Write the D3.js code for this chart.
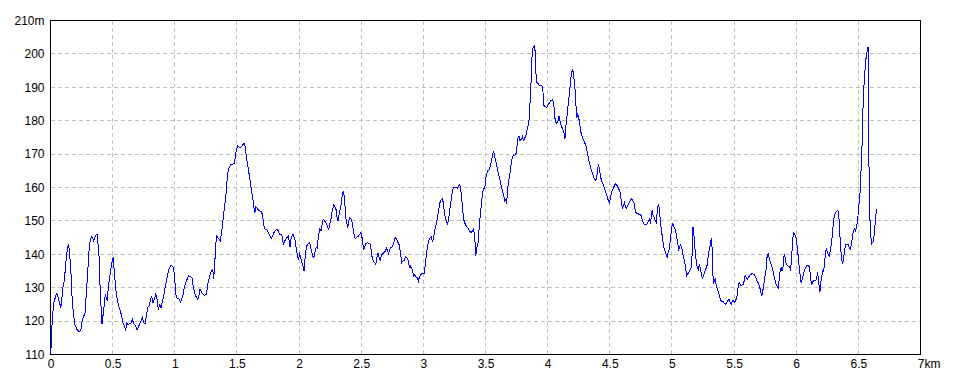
<!DOCTYPE html>
<html><head><meta charset="utf-8">
<script src="https://cdn.jsdelivr.net/npm/d3@7"></script>
<style>
body{margin:0;background:#fff}
svg{display:block}
text{font-family:"Liberation Sans",Arial,sans-serif;font-size:12px;fill:#000}
</style>
</head><body>
<svg id="chart" width="960" height="384"></svg>
<script>
// distance in metres, elevation in metres
const profile0to1_26 = [[0,110.5],[8,113.5],[11,118],[19,122.5],[27,125.5],[38,127],[48,128.2],[59,127.5],[73,125.5],[83,124],[91,126.5],[99,130],[110,132],[118,135],[126,138.5],[137,142],[145,143.2],[153,140.5],[164,135],[175,126],[185,122],[196,119],[212,117.5],[234,116.8],[245,117.5],[255,120],[266,121.5],[277,122],[288,128],[298,134],[309,140.5],[320,144.5],[333,145.3],[347,144],[360,145.5],[374,146],[379,144.5],[390,140],[395,133],[403,128],[409,122],[414,119],[422,121.5],[433,125],[441,128],[449,127],[457,126],[465,130],[476,133],[487,136],[497,138.2],[505,139.2],[513,135],[524,130],[535,127],[548,124.5],[562,123],[573,121.5],[583,119.5],[594,118.5],[605,117.2],[613,119.5],[624,119],[637,119.2],[648,119.5],[659,120.5],[669,119.2],[683,118.8],[696,117.5],[707,118.2],[718,119.2],[728,120],[739,121],[750,119.5],[761,119.2],[771,121.5],[782,124.2],[793,124.5],[804,126.2],[814,127.5],[825,125.5],[836,126.5],[847,128],[857,126.5],[868,123.5],[879,124.8],[890,124],[900,126],[911,127.5],[922,130],[933,132],[943,134],[954,135.8],[970,136.8],[986,136.2],[997,134],[1008,128],[1019,126.8],[1030,126.8],[1046,125.8],[1056,126.5],[1067,128],[1078,130.5],[1089,131.5],[1099,132.5],[1110,133.5],[1126,133.3],[1140,132.8],[1150,130],[1159,128.5],[1169,127.5],[1185,126.5],[1196,128],[1202,129.5],[1212,129],[1223,128.2],[1239,127.7],[1255,128]];

const profile1_26to2_82 = [[1263,130.5],[1274,132.5],[1285,134],[1296,135.2],[1306,135.5],[1312,132.5],[1320,136],[1328,142],[1336,145.5],[1347,145],[1358,144.5],[1366,144],[1374,146],[1383,148.5],[1390,151],[1398,153.5],[1406,156],[1414,158.5],[1419,161.5],[1427,164.5],[1438,166],[1452,167],[1468,167],[1481,167.2],[1489,170],[1495,171.2],[1505,172.5],[1522,172],[1538,172.2],[1548,172.8],[1559,173.2],[1565,172.5],[1573,170],[1583,167.5],[1594,165],[1602,163],[1610,161],[1618,159],[1626,157],[1634,155],[1640,153],[1645,152.5],[1653,154.2],[1661,154],[1672,153.2],[1683,153],[1696,152.8],[1704,152],[1712,150],[1720,147.8],[1731,147.5],[1742,147.2],[1753,146.5],[1763,145.8],[1777,144.8],[1788,145.5],[1798,146.5],[1812,147.2],[1823,147.5],[1833,147],[1844,146],[1855,146],[1866,145.2],[1874,142.8],[1882,143.8],[1892,144.5],[1903,145],[1914,145.5],[1922,143.5],[1927,142.2],[1933,144.5],[1944,145.5],[1952,146],[1962,145],[1970,143.8],[1978,141.5],[1987,139.5],[1995,138.2],[2003,140.2],[2011,139.5],[2019,138],[2027,136.8],[2035,136.2],[2040,135],[2046,138],[2054,141],[2062,142.5],[2073,143.2],[2086,143.5],[2094,142],[2102,140.8],[2110,139.5],[2119,139],[2127,140.5],[2137,142],[2145,141.8],[2156,145.5],[2167,147.5],[2177,147],[2185,149],[2194,150.5],[2204,150],[2215,149.5],[2223,149],[2231,148],[2239,147.5],[2247,149],[2255,150.2],[2263,152],[2269,153.5],[2280,154.8],[2290,154.2],[2301,153],[2306,151],[2314,150],[2323,152],[2331,153.5],[2339,155],[2347,157.5],[2355,159],[2363,157.5],[2371,153.8],[2376,151],[2384,149.5],[2390,147.8],[2398,149.5],[2406,151],[2414,150.8],[2425,150],[2433,148.2],[2441,146.5],[2446,145],[2457,144.8],[2468,145.2],[2478,145.5],[2489,146],[2497,146.5],[2505,145.5],[2513,143],[2521,141.5],[2530,142.5],[2538,143.2],[2548,143.5],[2562,143.2],[2575,143],[2583,140],[2589,139],[2597,138],[2608,137.5],[2618,137],[2626,139],[2634,140.5],[2645,139],[2653,138],[2661,139.5],[2672,140.2],[2683,140.5],[2694,141],[2704,141.8],[2712,141],[2720,140.2],[2728,141.5],[2739,142],[2750,142.2],[2763,143.5],[2774,145],[2785,144.5],[2796,143.5],[2806,142.8],[2814,141]];

const profile2_82to3_85 = [[2826,137.5],[2834,138],[2845,138.2],[2856,139.2],[2866,139],[2877,138.2],[2888,136],[2893,136.8],[2901,136],[2912,135.5],[2920,133.5],[2930,133.8],[2941,133.2],[2952,133],[2960,132],[2968,133.2],[2979,134],[2992,134.2],[3008,134.2],[3016,137],[3024,140],[3032,142],[3040,143.5],[3048,144.5],[3056,145],[3064,145.2],[3072,144],[3080,144.5],[3088,146.2],[3096,148],[3107,149.5],[3115,151.5],[3123,153.2],[3131,155.2],[3139,156],[3147,156.5],[3155,156.8],[3160,155.2],[3168,153],[3176,151],[3185,150],[3195,149],[3203,150.5],[3211,153],[3219,155.2],[3227,157.2],[3235,159.2],[3246,160],[3262,160],[3273,159.8],[3281,160.2],[3289,160.8],[3297,160.2],[3305,158],[3313,155],[3321,151.5],[3329,149.7],[3340,148.8],[3350,148.2],[3361,147.8],[3372,147],[3382,146.5],[3393,146.8],[3404,147.5],[3412,145.5],[3417,143],[3422,139.5],[3431,142.2],[3439,143],[3444,145.5],[3452,149.5],[3460,152.5],[3468,155.5],[3476,158.2],[3484,159.5],[3495,160],[3503,163],[3511,164.2],[3519,165],[3529,165.2],[3540,166.5],[3551,168.5],[3559,170],[3564,171],[3570,170],[3578,168.5],[3588,167],[3599,165],[3607,163.8],[3618,162],[3626,160.5],[3636,159.2],[3647,157.5],[3655,156],[3663,156.5],[3669,155.2],[3677,158.5],[3685,162],[3693,163],[3701,165.5],[3709,168],[3717,169.2],[3725,169.8],[3735,169.5],[3746,170.2],[3754,172.5],[3762,175],[3770,175.5],[3778,174],[3789,174.5],[3797,175.2],[3805,174.2],[3813,174.5],[3824,175.5],[3834,177.2],[3842,178.5],[3850,180]];

const profile3_85to4_50 = [[3856,183.5],[3861,187.5],[3866,191],[3872,198],[3880,201.5],[3888,202.2],[3896,202.5],[3901,199.5],[3906,194],[3914,191.5],[3925,191],[3936,190.5],[3949,190.5],[3960,190.2],[3965,187],[3971,184.5],[3981,184.2],[3995,184],[4005,184.8],[4016,185.5],[4027,186],[4037,186.2],[4048,185.5],[4056,182],[4062,179.5],[4075,179.2],[4083,179.8],[4091,181.5],[4096,180.8],[4104,179],[4115,178],[4126,177],[4134,176],[4139,174.5],[4144,177.5],[4152,180],[4160,183],[4169,186],[4177,189],[4185,192],[4193,194.5],[4201,195.5],[4209,193.5],[4217,191],[4225,187],[4230,183],[4235,180.8],[4241,182.2],[4249,181],[4257,179.5],[4265,177],[4275,175.5],[4286,174.5],[4297,173.5],[4308,172.5],[4316,171],[4324,169.5],[4332,168],[4342,166.5],[4353,165],[4364,163.8],[4374,162.8],[4385,162.2],[4393,162.5],[4401,165],[4409,167],[4417,165.5],[4425,163.5],[4433,162],[4441,161.5],[4449,160.8],[4457,159.5],[4465,159],[4473,158],[4481,157],[4489,156],[4497,155.5]];

const profile4_50to6_04 = [[4508,157.5],[4519,159],[4530,160],[4540,160.8],[4548,161.2],[4559,160.5],[4570,159.8],[4581,158.8],[4589,157],[4597,155],[4602,153.5],[4610,154.5],[4618,155.5],[4626,154.2],[4634,153.8],[4645,154.5],[4656,155.5],[4667,156.2],[4677,156.8],[4685,156],[4694,155.5],[4702,153.8],[4710,152.5],[4720,152.2],[4737,152],[4747,151.8],[4755,151.5],[4763,150],[4771,149.2],[4780,148.8],[4790,148.8],[4801,149.2],[4812,150],[4820,150.5],[4828,149.2],[4833,151],[4841,153.2],[4849,151.5],[4858,151],[4866,150],[4874,149.5],[4882,153],[4890,155],[4898,153.8],[4906,150.5],[4914,147.5],[4922,145.5],[4930,143.2],[4938,141.5],[4946,140.8],[4954,140],[4962,139.2],[4970,140.5],[4978,141.5],[4987,144],[4995,147],[5003,149.2],[5011,148.8],[5021,147.8],[5030,147],[5038,145],[5046,143.5],[5054,141.5],[5062,142.2],[5070,142.8],[5078,142.2],[5086,140.5],[5094,139],[5102,137.8],[5110,136],[5118,133.5],[5126,134],[5134,134.5],[5142,135],[5150,135.5],[5159,136.5],[5164,142],[5169,148.2],[5175,147],[5180,144],[5188,140.5],[5196,138],[5204,136],[5212,135.5],[5220,137],[5228,136],[5237,134],[5245,132.8],[5253,133.5],[5261,134.5],[5269,135.2],[5277,136],[5285,137],[5293,140],[5301,141.5],[5309,143],[5317,144.8],[5323,142],[5328,136],[5333,131],[5341,132],[5349,133],[5357,130.5],[5366,129.5],[5374,128.5],[5382,127.8],[5390,126.5],[5398,126],[5409,126],[5419,125.5],[5430,125],[5441,125.5],[5452,126.2],[5462,126.5],[5470,125.5],[5478,125.2],[5486,126],[5495,126.2],[5505,125.5],[5516,126.5],[5527,128],[5535,131],[5543,131.5],[5551,130.8],[5562,130.8],[5573,131],[5581,132],[5589,133.8],[5597,133.2],[5605,132.5],[5613,133],[5624,133.5],[5634,134],[5648,134.2],[5661,134],[5672,133.2],[5683,132.2],[5693,131.5],[5704,130.5],[5715,128.8],[5723,127.5],[5731,129],[5739,131],[5747,133],[5755,134.5],[5761,137],[5766,139.5],[5774,140.2],[5782,139],[5790,138],[5798,137],[5806,136.2],[5814,135],[5822,133.5],[5831,132],[5839,131],[5847,130.5],[5855,130],[5863,132.5],[5871,135],[5879,136],[5887,135],[5895,136.5],[5903,140],[5911,139],[5919,137],[5927,136.8],[5935,136.5],[5946,136.2],[5954,135.5],[5962,138],[5970,143.5],[5978,146.5],[5986,146],[5995,145.5],[6003,144],[6011,141.5],[6019,138],[6027,135],[6035,132.8]];

const profile6_04toEnd = [[6040,131.5],[6048,132.5],[6056,133.8],[6065,135],[6073,135.8],[6081,136.4],[6091,136.7],[6102,136.5],[6110,135.2],[6118,132.2],[6126,131],[6134,131.8],[6142,132.2],[6153,132],[6164,132.5],[6172,134.8],[6177,133],[6185,130.2],[6191,128.8],[6196,131.2],[6204,133],[6212,135],[6220,134.8],[6228,137],[6234,140],[6242,141.8],[6250,140.8],[6258,139.8],[6266,139.5],[6274,141],[6282,143],[6290,145.5],[6298,149],[6306,151.5],[6317,152.5],[6328,153],[6336,153.2],[6344,150.8],[6352,145.5],[6358,141.8],[6366,138.5],[6374,137],[6382,139],[6390,141.5],[6398,143],[6409,143],[6419,142.8],[6427,141.8],[6435,141.5],[6444,143],[6452,145],[6460,147],[6468,147.5],[6476,147],[6484,148],[6489,149],[6497,151.5],[6505,155],[6513,158],[6519,162],[6524,168],[6530,173],[6535,181],[6540,187],[6548,192.5],[6556,196.5],[6564,199.5],[6573,201],[6578,202.2],[6581,197],[6583,180],[6586,165],[6589,153.5],[6594,150],[6599,146.5],[6605,143],[6613,143.5],[6621,143.8],[6629,146.5],[6637,150],[6645,153.5]];

const xTicks = [0,0.5,1,1.5,2,2.5,3,3.5,4,4.5,5,5.5,6,6.5,7];
const xTickLabels = ["0","0.5","1","1.5","2","2.5","3","3.5","4","4.5","5","5.5","6","6.5","7km"];
const yTicks = [110,120,130,140,150,160,170,180,190,200,210];
const yTickLabels = ["110","120","130","140","150","160","170","180","190","200","210m"];

const profile = [].concat(profile0to1_26, profile1_26to2_82, profile2_82to3_85,
  profile3_85to4_50, profile4_50to6_04, profile6_04toEnd);

const svg = d3.select("#chart");
const L = 50.5, R = 920.5, T = 20.5, B = 354.5;
const x = d3.scaleLinear().domain([0, 7]).range([L, R]);
const y = d3.scaleLinear().domain([110, 210]).range([B, T]);
const snap = v => Math.round(v - 0.5) + 0.5;

// grid
const grid = svg.append("g").attr("stroke", "#c0c0c0").attr("stroke-width", 1)
  .attr("stroke-dasharray", "4,3").attr("shape-rendering", "crispEdges");
grid.selectAll("line.v").data(xTicks.slice(1, -1)).join("line").attr("class", "v")
  .attr("x1", d => snap(x(d))).attr("x2", d => snap(x(d))).attr("y1", T).attr("y2", B);
grid.selectAll("line.h").data(yTicks.slice(1, -1)).join("line").attr("class", "h")
  .attr("y1", d => snap(y(d))).attr("y2", d => snap(y(d))).attr("x1", L).attr("x2", R);

// frame
svg.append("rect").attr("x", L).attr("y", T).attr("width", R - L).attr("height", B - T)
  .attr("fill", "none").attr("stroke", "#000").attr("stroke-width", 1)
  .attr("shape-rendering", "crispEdges");

// axes (labels only)
const xAxis = svg.append("g").attr("transform", `translate(0,${B})`)
  .call(d3.axisBottom(x).tickValues(xTicks).tickFormat((d, i) => xTickLabels[i]).tickSize(0).tickPadding(5));
xAxis.select(".domain").remove();
xAxis.selectAll("text").attr("font-family", null).attr("font-size", null);
xAxis.selectAll(".tick").filter((d, i) => i === xTicks.length - 1).select("text")
  .attr("text-anchor", "start").attr("dx", -3.3);

const yAxis = svg.append("g").attr("transform", `translate(${L},0)`)
  .call(d3.axisLeft(y).tickValues(yTicks).tickFormat((d, i) => yTickLabels[i]).tickSize(0).tickPadding(6));
yAxis.select(".domain").remove();
yAxis.selectAll("text").attr("font-family", null).attr("font-size", null);

// line
const line = d3.line().x(d => x(d[0] / 1000)).y(d => y(d[1]));
svg.append("path").datum(profile).attr("d", line)
  .attr("fill", "none").attr("stroke", "#0000ff").attr("stroke-width", 1)
  .attr("shape-rendering", "crispEdges");
</script>
</body></html>
